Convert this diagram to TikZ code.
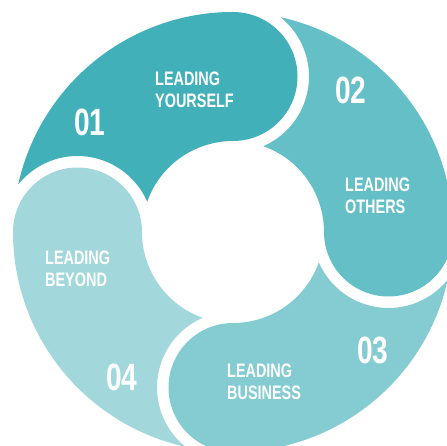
\documentclass[tikz,border=0pt]{standalone}
\usepackage{fontspec}
\setmainfont{Liberation Sans}
\newfontfamily\labelfont{Liberation Sans}[FakeStretch=0.74]
\usetikzlibrary{positioning}
\definecolor{ldone}{RGB}{66,176,185}
\definecolor{ldtwo}{RGB}{100,191,198}
\definecolor{ldthree}{RGB}{132,204,209}
\definecolor{ldfour}{RGB}{162,216,220}
\tikzstyle{title} = [anchor=west, align=left, inner sep=0pt, text=white, font=\labelfont\bfseries\fontsize{19.5}{22}\selectfont]
\tikzstyle{number} = [inner sep=0pt, text=white, font=\labelfont\bfseries\fontsize{38}{40}\selectfont]

% one ring part: head angle, colour
\newcommand{\ringpart}[2]{%
  \fill[#2] ({#1+77.52}:220) arc[start angle={#1+77.52}, end angle=#1, radius=220]
    arc[start angle=#1, end angle={#1-180}, radius=64.5]
    arc[start angle=#1, end angle={#1+70.56}, radius=91]
    arc[start angle={#1-66.51}, end angle={#1+51.28}, radius=76] -- cycle;}

\begin{document}
\begin{tikzpicture}[x=1pt,y=1pt]
\useasboundingbox (-233,-214) rectangle (214,232);
\clip (-233,-214) rectangle (214,232);

% Ring parts
\ringpart{90}{ldone}
\ringpart{0}{ldtwo}
\ringpart{-90}{ldthree}
\ringpart{180}{ldfour}

% Numbers
\node[number] (n1) at (-143,110) {01};
\node[number] (n2) at (118,142) {02};
\node[number] (n3) at (140,-118) {03};
\node[number] (n4) at (-111,-145) {04};

% Titles
\node[title] (t1) at (-78,142) {LEADING\\YOURSELF};
\node[title] (t2) at (112,36) {LEADING\\OTHERS};
\node[title] (t3) at (-6,-150) {LEADING\\BUSINESS};
\node[title] (t4) at (-188,-36.5) {LEADING\\BEYOND};
\end{tikzpicture}
\end{document}
